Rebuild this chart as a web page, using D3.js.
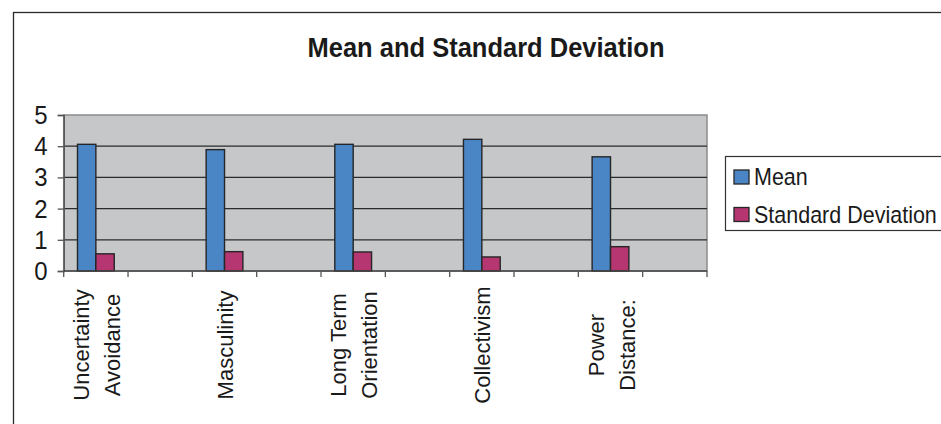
<!DOCTYPE html>
<html>
<head>
<meta charset="utf-8">
<script src="https://cdn.jsdelivr.net/npm/d3@7"></script>
<style>
  html, body { margin: 0; padding: 0; background: #fff; overflow: hidden; }
  svg { display: block; font-family: "Liberation Sans", Arial, sans-serif; }
</style>
</head>
<body>
<svg id="chart" width="941" height="424"></svg>
<script>
// ---- data ----
const categories = ["Uncertainty Avoidance", "Masculinity", "Long Term Orientation", "Collectivism", "Power Distance:"];
const categoryLines = [["Uncertainty", "Avoidance"], ["Masculinity"], ["Long Term", "Orientation"], ["Collectivism"], ["Power", "Distance:"]];
const seriesNames = ["Mean", "Standard Deviation"];
const meanValues = [4.06, 3.89, 4.06, 4.22, 3.66];
const sdValues = [0.55, 0.62, 0.61, 0.45, 0.78];
const yTicks = [0, 1, 2, 3, 4, 5];
const title = "Mean and Standard Deviation";
const colors = ["#4a86c6", "#b53670"];

// ---- layout ----
const svg = d3.select("#chart");
const plot = { left: 63.7, right: 707, top: 115, bottom: 271 };
const stretch = 1.1; // reference glyphs are slightly taller than wide

// outer frame (extends past the window on right/bottom)
svg.append("rect")
  .attr("x", 13.5).attr("y", 12.5)
  .attr("width", 945).attr("height", 430)
  .attr("fill", "#fff").attr("stroke", "#2a2a2a").attr("stroke-width", 1.3);

// title
svg.append("text")
  .attr("transform", `translate(486,56.5) scale(1,${stretch})`)
  .attr("text-anchor", "middle")
  .attr("font-weight", "bold")
  .attr("font-size", 25.5)
  .attr("fill", "#1a1a1a")
  .text(title);

// slots: each category followed by an empty slot
const slots = [];
categories.forEach((c, i) => { slots.push("c" + i); slots.push("gap" + i); });

const x = d3.scaleBand().domain(slots).range([plot.left, plot.right]).padding(0);
const xInner = d3.scaleBand().domain(seriesNames).range([0, x.bandwidth()]).paddingInner(0).paddingOuter(0.75);
const y = d3.scaleLinear().domain([0, 5]).range([plot.bottom, plot.top]);

// plot area
svg.append("rect")
  .attr("x", plot.left).attr("y", plot.top)
  .attr("width", plot.right - plot.left).attr("height", plot.bottom - plot.top)
  .attr("fill", "#c6c7c9").attr("stroke", "#8c8c8c").attr("stroke-width", 1.5);

// gridlines
svg.append("g").selectAll("line")
  .data(yTicks.filter(t => t > 0 && t < 5))
  .join("line")
  .attr("x1", plot.left).attr("x2", plot.right)
  .attr("y1", d => y(d)).attr("y2", d => y(d))
  .attr("stroke", "#2b2b2b").attr("stroke-width", 1.2);

// bars
const rows = categories.map((c, i) => ({ key: "c" + i, values: [meanValues[i], sdValues[i]] }));
const groups = svg.append("g").selectAll("g")
  .data(rows).join("g")
  .attr("transform", d => `translate(${x(d.key)},0)`);
groups.selectAll("rect")
  .data(d => d.values.map((v, j) => ({ s: seriesNames[j], v, j })))
  .join("rect")
  .attr("x", d => xInner(d.s))
  .attr("width", xInner.bandwidth())
  .attr("y", d => y(d.v))
  .attr("height", d => y(0) - y(d.v))
  .attr("fill", d => colors[d.j])
  .attr("stroke", "#262626").attr("stroke-width", 1.4);

// y axis
const yAxis = svg.append("g")
  .attr("transform", `translate(${plot.left},0)`)
  .call(d3.axisLeft(y).tickValues(yTicks).tickSize(6).tickPadding(10).tickFormat(d3.format("d")));
yAxis.select(".domain").attr("stroke", "#555").attr("stroke-width", 1.5);
yAxis.selectAll(".tick line").attr("stroke", "#555").attr("stroke-width", 1.3);
yAxis.selectAll(".tick text")
  .attr("font-size", 24).attr("fill", "#1a1a1a")
  .attr("font-family", "Liberation Sans, Arial, sans-serif")
  .attr("x", null).attr("dy", null)
  .attr("y", 0)
  .attr("transform", `translate(-16,${8.5}) scale(1,${stretch})`);

// x axis (ticks at slot boundaries)
const xAxisG = svg.append("g");
xAxisG.append("line")
  .attr("x1", plot.left).attr("x2", plot.right)
  .attr("y1", plot.bottom).attr("y2", plot.bottom)
  .attr("stroke", "#444").attr("stroke-width", 1.5);
const boundaries = slots.map(s => x(s)).concat([x.range()[1]]);
xAxisG.selectAll("line.tk")
  .data(boundaries).join("line").attr("class", "tk")
  .attr("x1", d => d).attr("x2", d => d)
  .attr("y1", plot.bottom).attr("y2", plot.bottom + 6)
  .attr("stroke", "#555").attr("stroke-width", 1.3);

// category labels (rotated)
const lineGap = 31;
categoryLines.forEach((lines, i) => {
  const cx = x("c" + i) + x.bandwidth() / 2;
  lines.forEach((ln, k) => {
    const bx = cx - (lines.length - 1) * lineGap / 2 + k * lineGap + 8.5;
    svg.append("text")
      .attr("transform", `translate(${bx},345) rotate(-90)`)
      .attr("text-anchor", "middle")
      .attr("font-size", 22)
      .attr("fill", "#1a1a1a")
      .text(ln);
  });
});

// legend
const lg = svg.append("g");
lg.append("rect")
  .attr("x", 725.5).attr("y", 156.5)
  .attr("width", 260).attr("height", 74)
  .attr("fill", "#fff").attr("stroke", "#333").attr("stroke-width", 1.2);
const legendY = [177, 214.5];
seriesNames.forEach((s, j) => {
  lg.append("rect")
    .attr("x", 734).attr("y", legendY[j] - 7)
    .attr("width", 15).attr("height", 14)
    .attr("fill", colors[j]).attr("stroke", "#262626").attr("stroke-width", 1.3);
  lg.append("text")
    .attr("transform", `translate(754,${legendY[j] + 8}) scale(1,${stretch})`)
    .attr("font-size", 21.5)
    .attr("fill", "#1a1a1a")
    .text(s);
});
</script>
</body>
</html>
